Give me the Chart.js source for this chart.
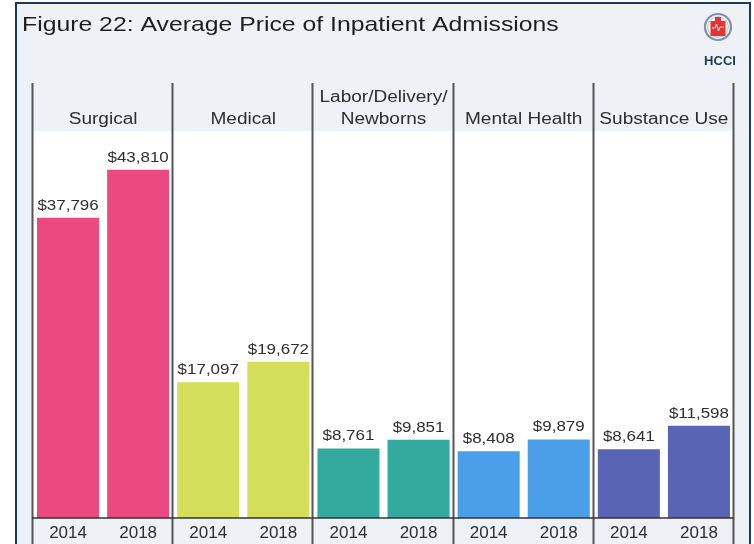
<!DOCTYPE html>
<html>
<head>
<meta charset="utf-8">
<script src="https://cdn.jsdelivr.net/npm/chart.js@4/dist/chart.umd.min.js"></script>
<style>
html,body{margin:0;padding:0;background:#fff;}
#wrap{width:754px;height:544px;position:relative;}
</style>
</head>
<body>
<div id="wrap"><canvas id="c" width="754" height="544"></canvas></div>
<script>
// ---- data ----
const title = 'Figure 22: Average Price of Inpatient Admissions';
const categories = ['Surgical', 'Medical', 'Labor/Delivery/\nNewborns', 'Mental Health', 'Substance Use'];
const years = ['2014', '2018'];
const values2014 = [37796, 17097, 8761, 8408, 8641];
const values2018 = [43810, 19672, 9851, 9879, 11598];
const categoryColors = ['#ea4a80', '#d4df5c', '#34a99d', '#4a9fe8', '#5a64b5'];

// build flat table for the library
const tickLabels = [];
const barValues = [];
const barColors = [];
categories.forEach((c, i) => {
  tickLabels.push(years[0], years[1]);
  barValues.push(values2014[i], values2018[i]);
  barColors.push(categoryColors[i], categoryColors[i]);
});

const FONT = "'Liberation Sans', Arial, sans-serif";

function stretchText(ctx, text, x, y, sx) {
  ctx.save();
  ctx.translate(x, y);
  ctx.scale(sx, 1);
  ctx.fillText(text, 0, 0);
  ctx.restore();
}

const decor = {
  id: 'decor',
  beforeDraw(chart) {
    const ctx = chart.ctx;
    const a = chart.chartArea;
    ctx.save();
    ctx.fillStyle = '#ffffff';
    ctx.fillRect(0, 0, chart.width, chart.height);
    ctx.fillStyle = '#eef1f5';
    ctx.fillRect(16, 3, 735, chart.height - 3);
    ctx.strokeStyle = '#1c3a5e';
    ctx.lineWidth = 2;
    ctx.beginPath();
    ctx.moveTo(16, chart.height);
    ctx.lineTo(16, 3);
    ctx.lineTo(750, 3);
    ctx.lineTo(750, chart.height);
    ctx.stroke();
    ctx.fillStyle = '#ffffff';
    ctx.fillRect(a.left, a.top, a.right - a.left, a.bottom - a.top);
    ctx.restore();
  },
  afterDatasetsDraw(chart) {
    const ctx = chart.ctx;
    const a = chart.chartArea;
    const xs = chart.scales.x;
    const meta = chart.getDatasetMeta(0);
    ctx.save();
    // value labels
    ctx.fillStyle = '#2e2e2e';
    ctx.font = '15px ' + FONT;
    ctx.textAlign = 'center';
    ctx.textBaseline = 'alphabetic';
    meta.data.forEach((el, i) => {
      const v = barValues[i];
      stretchText(ctx, '$' + v.toLocaleString('en-US'), el.x, el.y - 8, 1.13);
    });
    // separators between categories
    const n = tickLabels.length;
    const step = (xs.right - xs.left) / n;
    ctx.strokeStyle = '#555555';
    ctx.lineWidth = 2;
    for (let k = 0; k <= categories.length; k++) {
      const x = Math.round(xs.left + k * 2 * step) - 0.5;
      ctx.beginPath();
      ctx.moveTo(x, 83);
      ctx.lineTo(x, chart.height);
      ctx.stroke();
    }
    // axis line
    ctx.strokeStyle = '#333333';
    ctx.lineWidth = 1.5;
    ctx.beginPath();
    ctx.moveTo(xs.left - 1, a.bottom);
    ctx.lineTo(xs.right, a.bottom);
    ctx.stroke();
    // category headers
    ctx.fillStyle = '#2e2e2e';
    ctx.font = '16px ' + FONT;
    ctx.textBaseline = 'middle';
    categories.forEach((c, i) => {
      const cx = (xs.getPixelForTick(2 * i) + xs.getPixelForTick(2 * i + 1)) / 2;
      const lines = c.split('\n');
      const yLast = 120;
      lines.forEach((ln, j) => {
        const y = yLast - (lines.length - 1 - j) * 22;
        stretchText(ctx, ln, cx, y, 1.19);
      });
    });
    // title
    ctx.fillStyle = '#1e1e1e';
    ctx.font = '21px ' + FONT;
    ctx.textAlign = 'left';
    ctx.textBaseline = 'alphabetic';
    stretchText(ctx, title, 22, 31, 1.18);
    // logo
    const lx = 718, ly = 27;
    ctx.beginPath();
    ctx.arc(lx, ly, 13, 0, Math.PI * 2);
    ctx.fillStyle = '#f4f6f9';
    ctx.fill();
    ctx.lineWidth = 2.2;
    ctx.strokeStyle = '#7f90a8';
    ctx.stroke();
    ctx.beginPath();
    ctx.arc(lx, ly, 10.3, 0, Math.PI * 2);
    ctx.lineWidth = 1;
    ctx.strokeStyle = '#b9c3d0';
    ctx.stroke();
    ctx.fillStyle = '#e8322f';
    ctx.beginPath();
    ctx.moveTo(lx - 7.5, ly - 6);
    ctx.lineTo(lx - 3, ly - 6);
    ctx.lineTo(lx - 3, ly - 10);
    ctx.lineTo(lx + 3, ly - 10);
    ctx.lineTo(lx + 3, ly - 6);
    ctx.lineTo(lx + 7.5, ly - 6);
    ctx.lineTo(lx + 7.5, ly + 9);
    ctx.lineTo(lx - 7.5, ly + 9);
    ctx.closePath();
    ctx.fill();
    ctx.strokeStyle = '#ffffff';
    ctx.lineWidth = 0.9;
    ctx.beginPath();
    ctx.moveTo(lx - 6, ly + 1);
    ctx.lineTo(lx - 3, ly + 1);
    ctx.lineTo(lx - 1.5, ly - 3);
    ctx.lineTo(lx + 0.5, ly + 4);
    ctx.lineTo(lx + 2, ly);
    ctx.lineTo(lx + 6, ly);
    ctx.stroke();
    ctx.fillStyle = '#1c3a5e';
    ctx.font = 'bold 13px ' + FONT;
    ctx.textAlign = 'center';
    ctx.textBaseline = 'alphabetic';
    ctx.fillText('HCCI', 720, 65);
    ctx.restore();
  }
};

new Chart(document.getElementById('c'), {
  type: 'bar',
  data: {
    labels: tickLabels,
    datasets: [{
      data: barValues,
      backgroundColor: barColors,
      borderWidth: 0,
      barPercentage: 0.885,
      categoryPercentage: 1.0
    }]
  },
  options: {
    responsive: false,
    animation: false,
    devicePixelRatio: 1,
    layout: { padding: { left: 33, right: 20, top: 131, bottom: 0 } },
    plugins: { legend: { display: false }, tooltip: { enabled: false }, title: { display: false } },
    scales: {
      x: {
        type: 'category',
        grid: { display: false, drawTicks: false },
        border: { display: false },
        ticks: {
          color: '#2e2e2e',
          font: { family: FONT, size: 17 },
          padding: 5,
          maxRotation: 0,
          autoSkip: false
        },
        afterFit(scale) { scale.height = 26; }
      },
      y: {
        display: false,
        min: 0,
        max: 48700
      }
    }
  },
  plugins: [decor]
});
</script>
</body>
</html>
